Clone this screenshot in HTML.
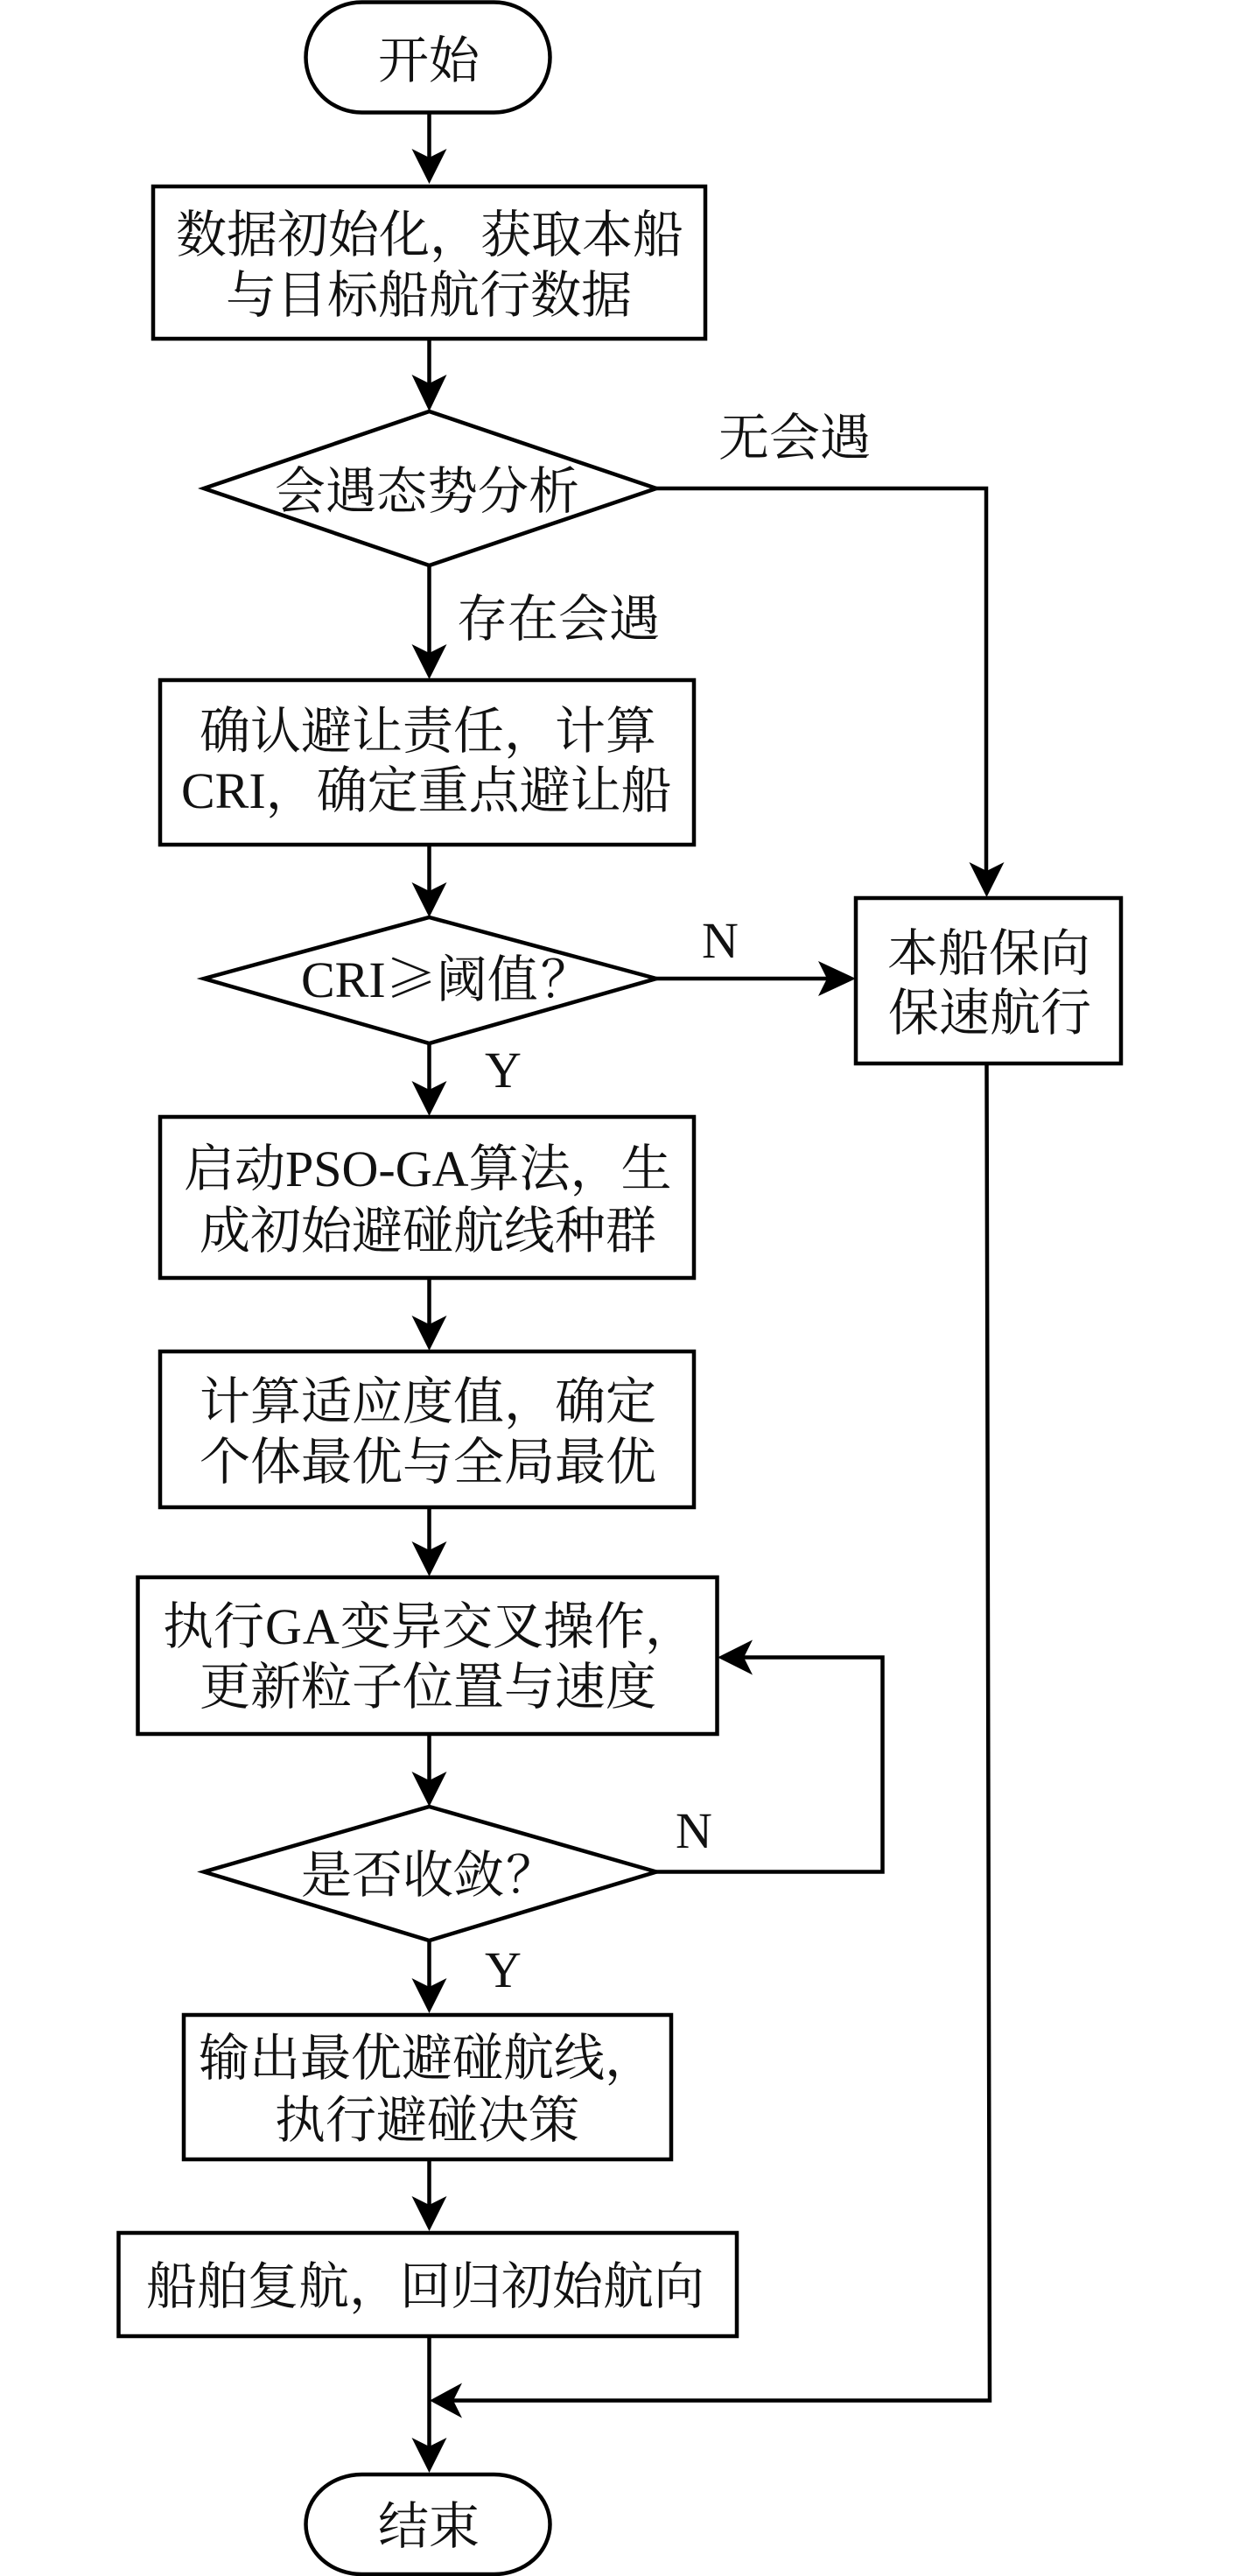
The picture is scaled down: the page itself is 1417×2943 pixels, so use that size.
<!DOCTYPE html>
<html lang="zh">
<head>
<meta charset="utf-8">
<style>
html,body{margin:0;padding:0;background:#fff;}
svg{display:block;}
text{font-family:"Liberation Serif","Noto Serif CJK SC",serif;font-size:58px;fill:#111;}
.c{text-anchor:middle;}
.cjk{font-family:"Noto Serif CJK SC",serif;}
</style>
</head>
<body>
<svg xmlns="http://www.w3.org/2000/svg" width="1417" height="2943" viewBox="0 0 1417 2943">
<rect width="1417" height="2943" fill="#fff"/>
<g fill="none" stroke="#000" stroke-width="4.5">
<!-- connectors -->
<path d="M490.5 129V190M490.5 387V450M490.5 646V755M490.5 965V1028M490.5 1192V1255M490.5 1460V1523M490.5 1722V1781M490.5 1981V2044M490.5 2217V2280M490.5 2467V2529M490.5 2669V2805"/>
<path d="M750 558H1127V1005"/>
<path d="M750 1118H945"/>
<path d="M1127.5 1215L1131 2742.5H515"/>
<path d="M750 2138.5H1008.5V1893.5H845"/>
<!-- nodes -->
<rect x="349.5" y="2.5" width="279" height="126" rx="64" ry="64" fill="#fff"/>
<rect x="175" y="213" width="631" height="174" fill="#fff"/>
<polygon points="490.5,470 750,558 490.5,646 233,558" fill="#fff"/>
<rect x="183" y="777" width="610" height="188" fill="#fff"/>
<polygon points="490.5,1048 750,1118 490.5,1192 233,1118" fill="#fff"/>
<rect x="978" y="1026" width="303" height="189" fill="#fff"/>
<rect x="183" y="1276" width="610" height="184" fill="#fff"/>
<rect x="183" y="1544" width="610" height="178" fill="#fff"/>
<rect x="157.5" y="1802" width="662" height="179" fill="#fff"/>
<polygon points="490.5,2064 750,2138.5 490.5,2217 233,2138.5" fill="#fff"/>
<rect x="210" y="2302" width="557" height="165" fill="#fff"/>
<rect x="135.5" y="2551" width="706.5" height="118" fill="#fff"/>
<rect x="349.5" y="2827" width="279" height="114" rx="64" ry="64" fill="#fff"/>
</g>
<g fill="#000">
<polygon points="490.5,210 470.5,170 490.5,180 510.5,170"/>
<polygon points="490.5,470 470.5,428 490.5,438 510.5,428"/>
<polygon points="490.5,776 470.5,736 490.5,746 510.5,736"/>
<polygon points="490.5,1048 470.5,1008 490.5,1018 510.5,1008"/>
<polygon points="1127.5,1025 1107.5,985 1127.5,995 1147.5,985"/>
<polygon points="978,1118 935,1098 945,1118 935,1138"/>
<polygon points="490.5,1275 470.5,1235 490.5,1245 510.5,1235"/>
<polygon points="490.5,1543 470.5,1503 490.5,1513 510.5,1503"/>
<polygon points="490.5,1801 470.5,1761 490.5,1771 510.5,1761"/>
<polygon points="490.5,2064 470.5,2024 490.5,2034 510.5,2024"/>
<polygon points="490.5,2300 470.5,2260 490.5,2270 510.5,2260"/>
<polygon points="490.5,2549 470.5,2509 490.5,2519 510.5,2509"/>
<polygon points="490.5,2825 470.5,2785 490.5,2795 510.5,2785"/>
<polygon points="820,1893.5 860,1873.5 850,1893.5 860,1913.5"/>
<polygon points="491,2742.5 528,2722.5 518,2742.5 528,2762.5"/>
</g>
<text class="c" x="490" y="89">开始</text>
<text class="c" x="491" y="288">数据初始化，获取本船</text>
<text class="c" x="490" y="357">与目标船航行数据</text>
<text x="821" y="520">无会遇</text>
<text class="c" x="488" y="581">会遇态势分析</text>
<text x="522" y="727">存在会遇</text>
<text x="228" y="855">确认避让责任，计算</text>
<text x="207" y="923">CRI，确定重点避让船</text>
<text x="344" y="1139">CRI<tspan class="cjk">≥</tspan>阈值<tspan dx="3">？</tspan></text>
<text x="802" y="1094">N</text>
<text x="1014" y="1109">本船保向</text>
<text x="1015" y="1177">保速航行</text>
<text x="554" y="1242">Y</text>
<text x="210" y="1355">启动PSO-GA算法，生</text>
<text x="228" y="1426">成初始避碰航线种群</text>
<text x="228" y="1621">计算适应度值，确定</text>
<text x="228" y="1690">个体最优与全局最优</text>
<text x="186" y="1878">执行<tspan dx="1">G</tspan><tspan dx="1">A</tspan><tspan dx="1">变</tspan>异交叉操作，</text>
<text x="228" y="1947">更新粒子位置与速度</text>
<text x="772" y="2111">N</text>
<text x="344" y="2162">是否收敛<tspan dx="2">？</tspan></text>
<text x="554" y="2270">Y</text>
<text x="227" y="2371">输出最优避碰航线，</text>
<text x="314" y="2442">执行避碰决策</text>
<text x="167" y="2632">船舶复航，回归初始航向</text>
<text class="c" x="490" y="2906">结束</text>
</svg>
</body>
</html>
